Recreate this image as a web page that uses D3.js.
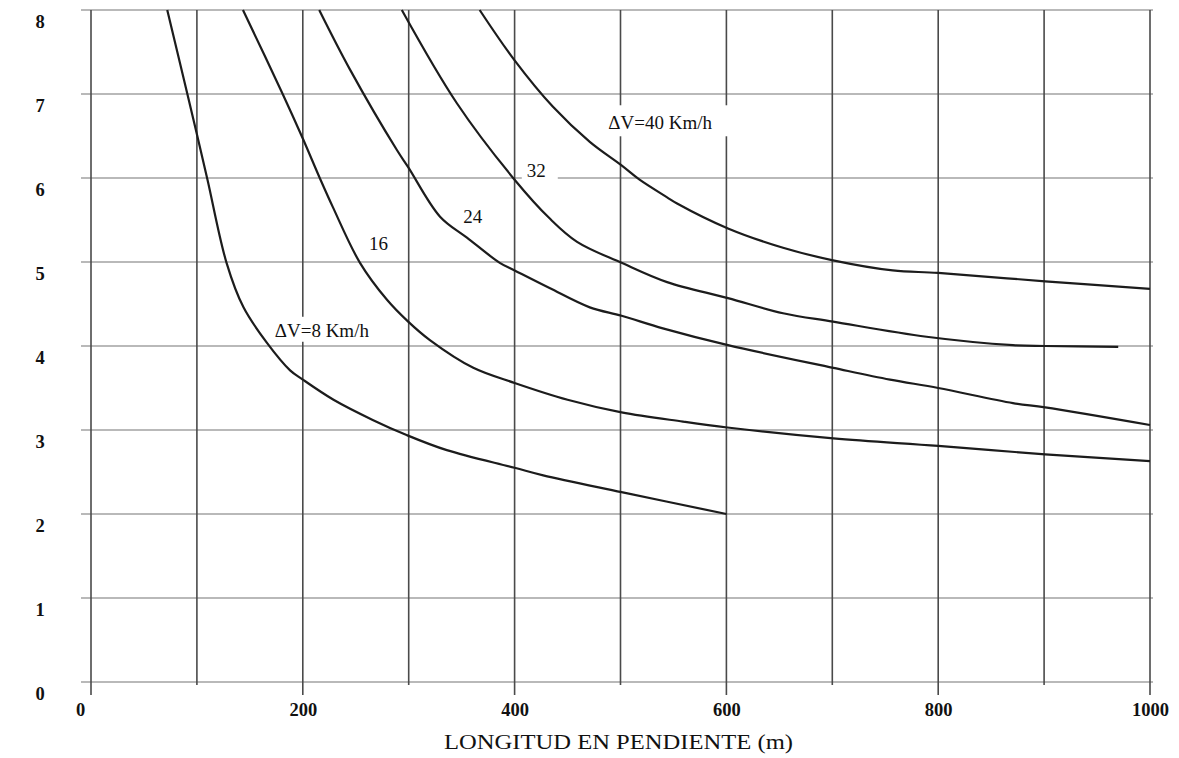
<!DOCTYPE html>
<html>
<head>
<meta charset="utf-8">
<script src="https://cdn.jsdelivr.net/npm/d3@7"></script>
<style>
  html, body { margin: 0; padding: 0; background: #fff; }
  svg { display: block; }
  text { font-family: "Liberation Serif", "Times New Roman", serif; fill: #111; }
</style>
</head>
<body>
<svg id="chart" width="1179" height="758"></svg>
<script>
// Grade (%) versus length of grade (m) for several speed reductions ΔV.
const xTicks = [0, 100, 200, 300, 400, 500, 600, 700, 800, 900, 1000];
const xLabelTicks = [0, 200, 400, 600, 800, 1000];
const yTicks = [0, 1, 2, 3, 4, 5, 6, 7, 8];

const dv8Len   = [72, 91, 100, 110, 128, 144, 166, 188, 200, 229, 266, 298, 336, 400, 427, 501, 600];
const dv8Grade = [8.0, 7.0, 6.52, 5.98, 4.99, 4.46, 4.04, 3.71, 3.60, 3.36, 3.12, 2.94, 2.76, 2.55, 2.46, 2.26, 2.0];

const dv16Len   = [143.5, 181, 200, 216, 228.5, 254, 279.5, 299.5, 320, 361, 400, 450, 501, 559, 601, 701, 800, 901, 1000];
const dv16Grade = [8.0, 7.0, 6.47, 6.0, 5.65, 4.99, 4.55, 4.29, 4.07, 3.74, 3.56, 3.36, 3.21, 3.10, 3.03, 2.90, 2.81, 2.71, 2.63];

const dv24Len   = [215.5, 244.6, 289, 299.5, 329.6, 355, 386, 400, 433, 471, 501, 540, 601.5, 701, 754.5, 800, 870.6, 901, 1000];
const dv24Grade = [8.0, 7.29, 6.33, 6.13, 5.54, 5.29, 4.99, 4.90, 4.69, 4.46, 4.36, 4.21, 4.01, 3.74, 3.60, 3.50, 3.32, 3.27, 3.06];

const dv32Len   = [293.5, 345.5, 400, 433, 459, 501, 544, 601.5, 653.5, 700.7, 789, 870.6, 901, 970];
const dv32Grade = [8.0, 6.89, 5.98, 5.52, 5.24, 4.99, 4.76, 4.57, 4.39, 4.29, 4.11, 4.01, 4.0, 3.99];

const dv40Len   = [367, 400, 436, 471, 501, 518, 544, 553, 601.5, 653.5, 700.7, 757, 800, 901, 1000];
const dv40Grade = [8.0, 7.40, 6.85, 6.43, 6.15, 5.98, 5.77, 5.70, 5.40, 5.17, 5.02, 4.90, 4.87, 4.77, 4.68];

const seriesLen   = [dv8Len, dv16Len, dv24Len, dv32Len, dv40Len];
const seriesGrade = [dv8Grade, dv16Grade, dv24Grade, dv32Grade, dv40Grade];

// Curve labels, anchored in data units (length, grade) at the text baseline start.
const labelTexts = ["ΔV=40 Km/h", "32", "24", "16", "ΔV=8 Km/h"];
const labelLen   = [488.5, 411.5, 351.5, 262.5, 173.5];
const labelGrade = [6.58, 6.01, 5.46, 5.14, 4.11];

const xTitle = "LONGITUD EN PENDIENTE (m)";

// ---------------------------------------------------------------
const svg = d3.select("#chart");
const x = d3.scaleLinear().domain([0, 1000]).range([91, 1150]);
const y = d3.scaleLinear().domain([0, 8]).range([682, 10]);

const grid = svg.append("g");
// horizontal grid
grid.selectAll("line.h").data(yTicks).join("line")
  .attr("x1", x(0) - 10).attr("x2", x(1000) + 3)
  .attr("y1", d => y(d)).attr("y2", d => y(d))
  .attr("stroke", "#a2a2a2").attr("stroke-width", 1.6);
// vertical grid, running past the baseline as tick marks
grid.selectAll("line.v").data(xTicks).join("line")
  .attr("x1", d => x(d)).attr("x2", d => x(d))
  .attr("y1", y(8))
  .attr("y2", d => y(0) + (d % 200 === 0 ? 13 : 3))
  .attr("stroke", "#4a4a4a").attr("stroke-width", 1.6);

const bgLayer = svg.append("g");
const curveLayer = svg.append("g");
const textLayer = svg.append("g");

// axes (labels only; the grid carries the lines)
const yAxis = svg.append("g").attr("transform", `translate(${x(0)},0)`)
  .call(d3.axisLeft(y).tickValues(yTicks).tickSize(0).tickFormat(d3.format("d")));
yAxis.select(".domain").remove();
yAxis.selectAll("text")
  .attr("x", 40 - x(0)).attr("dy", null).attr("y", 17.5)
  .attr("text-anchor", "middle")
  .style("font-family", "'Liberation Serif', serif")
  .style("font-size", "18.5px").style("font-weight", "bold").style("fill", "#111");

const xAxis = svg.append("g").attr("transform", `translate(0,${y(0)})`)
  .call(d3.axisBottom(x).tickValues(xLabelTicks).tickSize(0).tickFormat(d3.format("d")));
xAxis.select(".domain").remove();
xAxis.selectAll("text")
  .attr("dy", null).attr("y", 34)
  .attr("dx", d => d === 0 ? -11 : 0)
  .style("font-family", "'Liberation Serif', serif")
  .style("font-size", "18.5px").style("font-weight", "bold").style("fill", "#111");

svg.append("text")
  .attr("x", 444).attr("y", 749)
  .attr("textLength", 349).attr("lengthAdjust", "spacingAndGlyphs")
  .style("font-size", "21px")
  .text(xTitle);

// curves
const line = d3.line()
  .x(d => x(d[0])).y(d => y(d[1]))
  .curve(d3.curveCatmullRom.alpha(0.5));

seriesLen.forEach((lens, i) => {
  const pts = lens.map((v, j) => [v, seriesGrade[i][j]]);
  curveLayer.append("path")
    .attr("d", line(pts))
    .attr("fill", "none")
    .attr("stroke", "#1c1c1c")
    .attr("stroke-width", 2.2)
    .attr("stroke-linejoin", "round");
});

// labels with white backing that masks the grid
const pads = [[3, 17, 7, 3], [5, 12, 2, 2], [3, 3, 2, 2], [3, 3, 2, 2], [2, 3, 3, 1]];
labelTexts.forEach((t, i) => {
  const el = textLayer.append("text")
    .attr("x", x(labelLen[i])).attr("y", y(labelGrade[i]))
    .style("font-size", "19px")
    .text(t);
  const b = el.node().getBBox();
  const [pl, pr, pt, pb] = pads[i];
  bgLayer.append("rect")
    .attr("x", b.x - pl).attr("y", b.y - pt)
    .attr("width", b.width + pl + pr).attr("height", b.height + pt + pb)
    .attr("fill", "#fff");
});
</script>
</body>
</html>
